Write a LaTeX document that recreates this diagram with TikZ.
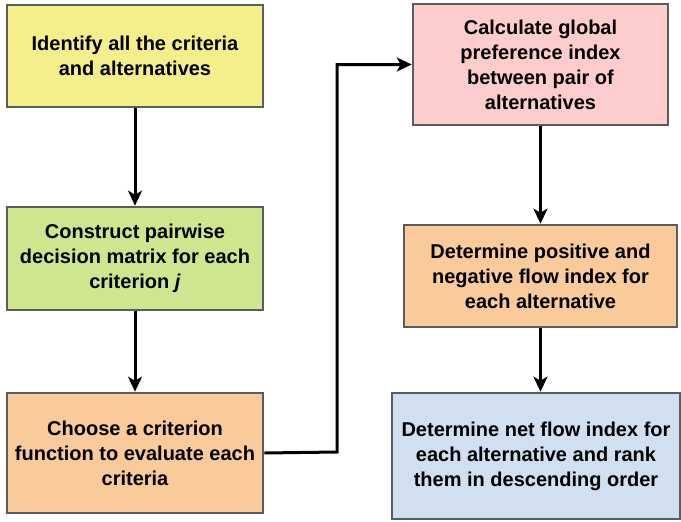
\documentclass[tikz,border=0pt]{standalone}
\usepackage{fontspec}
\setmainfont{Liberation Sans}
\usetikzlibrary{arrows.meta}
\definecolor{cyellow}{HTML}{F4EF8A}
\definecolor{cgreen}{HTML}{CEE78F}
\definecolor{corange}{HTML}{F9CA9A}
\definecolor{cpink}{HTML}{FDCDCD}
\definecolor{cblue}{HTML}{D0E0F0}
\definecolor{cborder}{HTML}{5C5C5C}
\begin{document}
\begin{tikzpicture}[x=1pt,y=-1pt,
  box/.style={draw=cborder,line width=2.6pt,align=center,inner sep=4pt,
    font=\fontsize{20}{25}\selectfont\bfseries},
  conn/.style={line width=3pt,-{Stealth[length=15pt,width=14pt,inset=4pt]}}]
\useasboundingbox (0,0) rectangle (681,522);
\node[box,fill=cyellow,minimum width=256pt,minimum height=102pt] (b1) at (135,56)
  {Identify all the criteria\\and alternatives};
\node[box,fill=cgreen,minimum width=256pt,minimum height=103pt] (b2) at (135,258.5)
  {Construct pairwise\\decision matrix for each\\criterion \textit{j}};
\node[box,fill=corange,minimum width=256pt,minimum height=120pt] (b3) at (135,453)
  {Choose a criterion\\function to evaluate each\\criteria};
\node[box,fill=cpink,minimum width=255pt,minimum height=121pt] (b4) at (540.5,64.5)
  {Calculate global\\preference index\\between pair of\\alternatives};
\node[box,fill=corange,minimum width=273pt,minimum height=102pt] (b5) at (540.5,276)
  {Determine positive and\\negative flow index for\\each alternative};
\node[box,fill=cblue,minimum width=288pt,minimum height=126pt] (b6) at (536,456)
  {Determine net flow index for\\each alternative and rank\\them in descending order};
\draw[conn] (b1) -- (b2);
\draw[conn] (b2) -- (b3);
\draw[conn] (b4) -- (b5);
\draw[conn] (b5.south) -- (b5.south |- b6.north);
\coordinate (turn) at (337,452);
\draw[conn] (b3.east) -- (turn) |- (b4.west);
\end{tikzpicture}
\end{document}
